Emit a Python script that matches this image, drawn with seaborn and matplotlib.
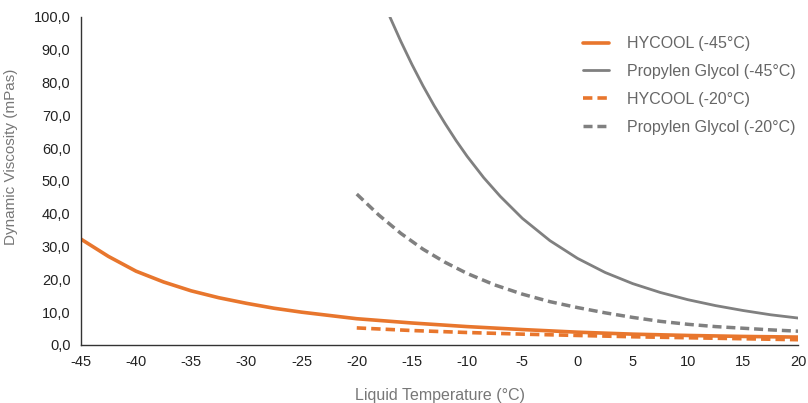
import numpy as np
import pandas as pd
import matplotlib
matplotlib.use('Agg')
import matplotlib.pyplot as plt
from matplotlib.ticker import FuncFormatter
import seaborn as sns

# values
temp_h45 = [-45, -42.5, -40, -37.5, -35, -32.5, -30, -27.5, -25, -22.5, -20, -15, -10, -5, 0, 5, 10, 15, 20]
hycool_45 = [32.3, 27.0, 22.5, 19.2, 16.5, 14.4, 12.7, 11.2, 10.0, 9.0, 8.0, 6.7, 5.6, 4.7, 3.9, 3.3, 2.9, 2.6, 2.4]

temp_pg45 = [-17, -16, -15, -14, -13, -12, -11, -10, -8.5, -7, -5, -2.5, 0, 2.5, 5, 7.5, 10, 12.5, 15, 17.5, 20]
pg_45 = [100.0, 92.5, 85.5, 79.0, 73.0, 67.5, 62.3, 57.5, 51.0, 45.3, 38.6, 31.8, 26.4, 22.1, 18.7, 16.0, 13.8, 12.0, 10.5, 9.2, 8.2]

temp_h20 = [-20, -15, -10, -5, 0, 5, 10, 15, 20]
hycool_20 = [5.2, 4.4, 3.8, 3.3, 2.9, 2.5, 2.2, 1.9, 1.6]

temp_pg20 = [-20, -18, -16, -14, -12, -10, -7.5, -5, -2.5, 0, 2.5, 5, 7.5, 10, 12.5, 15, 17.5, 20]
pg_20 = [46.0, 39.6, 34.0, 29.2, 25.2, 21.8, 18.3, 15.5, 13.2, 11.4, 9.8, 8.4, 7.2, 6.3, 5.6, 5.1, 4.6, 4.2]

orange = '#e8762d'
grey = '#808080'

sns.set_style('white')
plt.rcParams['font.family'] = ['Liberation Sans', 'DejaVu Sans']
plt.rcParams['axes.unicode_minus'] = False

fig, ax = plt.subplots(figsize=(8.08, 4.03), dpi=100)

dash = (0, (2.6, 1.4))
sns.lineplot(x=temp_h45, y=hycool_45, color=orange, lw=2.6, label='HYCOOL (-45°C)', ax=ax)
sns.lineplot(x=temp_pg45, y=pg_45, color=grey, lw=2.0, label='Propylen Glycol (-45°C)', ax=ax)
sns.lineplot(x=temp_h20, y=hycool_20, color=orange, lw=2.6, ls=dash, label='HYCOOL (-20°C)', ax=ax)
sns.lineplot(x=temp_pg20, y=pg_20, color=grey, lw=2.5, ls=dash, label='Propylen Glycol (-20°C)', ax=ax)

ax.set_xlim(-45, 20)
ax.set_ylim(0, 100)
ax.set_xticks(range(-45, 21, 5))
ax.set_yticks(range(0, 101, 10))
ax.yaxis.set_major_formatter(FuncFormatter(lambda v, p: f'{v:.1f}'.replace('.', ',')))

for s in ['top', 'right']:
    ax.spines[s].set_visible(False)
for s in ['left', 'bottom']:
    ax.spines[s].set_color('#333333')
    ax.spines[s].set_linewidth(1.0)
ax.tick_params(direction='inout', length=8, width=1, color='#333333', labelsize=10.5, labelcolor='#222222')
ax.tick_params(axis='x', pad=3)

ax.set_xlabel('Liquid Temperature (°C)', fontsize=11.5, color='#777777', labelpad=14)
ax.set_ylabel('Dynamic Viscosity (mPas)', fontsize=11, color='#777777', labelpad=8)
ax.yaxis.set_label_coords(-0.088, 0.575)

leg = ax.legend(loc='upper right', frameon=False, fontsize=11.5, handlelength=1.65,
                handletextpad=1.1, labelspacing=0.8, bbox_to_anchor=(1.016, 0.985))
for t in leg.get_texts():
    t.set_color('#666666')

plt.subplots_adjust(left=0.1, right=0.988, top=0.958, bottom=0.144)
plt.savefig('out.png', dpi=100)
